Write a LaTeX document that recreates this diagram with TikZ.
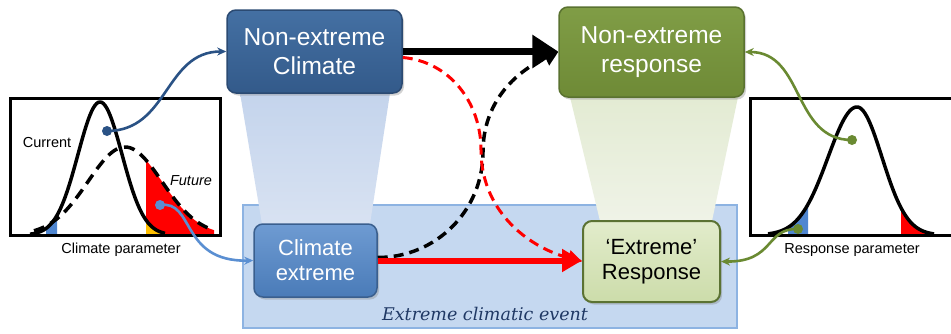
\documentclass[tikz,border=0pt]{standalone}
\usepackage{fontspec}
\setmainfont{Liberation Sans}
\newfontfamily\evfont{DejaVu Serif}
\usetikzlibrary{arrows.meta,shadows,calc}
\definecolor{necA}{HTML}{4470A3}
\definecolor{necB}{HTML}{335A8A}
\definecolor{necD}{HTML}{2B4A72}
\definecolor{ceA}{HTML}{6E9BD2}
\definecolor{ceB}{HTML}{4A7BB8}
\definecolor{ceD}{HTML}{3A5F8E}
\definecolor{nrA}{HTML}{809D46}
\definecolor{nrB}{HTML}{6E8A36}
\definecolor{nrD}{HTML}{5A7230}
\definecolor{erA}{HTML}{E2ECCB}
\definecolor{erB}{HTML}{CCDCAA}
\definecolor{erD}{HTML}{5B7233}
\definecolor{evFill}{HTML}{C5D8F0}
\definecolor{evDraw}{HTML}{8DB3E2}
\definecolor{evText}{HTML}{1F3864}
\definecolor{bmA}{HTML}{C4D4EC}
\definecolor{bmB}{HTML}{D8E2F2}
\definecolor{gbA}{HTML}{E3EBD3}
\definecolor{gbB}{HTML}{EFF3E7}
\definecolor{cDark}{HTML}{2A5285}
\definecolor{cLight}{HTML}{5A8FD2}
\definecolor{cGreen}{HTML}{6A8A32}
\definecolor{tailBlue}{HTML}{4F86D0}
\definecolor{tailYel}{HTML}{FFC000}
\newcommand\fbig{\fontsize{24.5}{29}\selectfont}
\newcommand\fmid{\fontsize{22}{25}\selectfont}
\newcommand\fsmall{\fontsize{14.5}{17}\selectfont}
\tikzset{
  boxnode/.style={rounded corners=9pt, align=center, inner sep=0pt,
    drop shadow={shadow xshift=2pt,shadow yshift=-2.5pt,opacity=0.35}},
  conn/.style={line width=2.6pt, -{Stealth[length=9pt,width=8pt]}},
  dotnode/.style={circle, inner sep=0pt, minimum size=10pt},
  chartframe/.style={line width=3pt, black},
  curve/.style={line width=3.5pt, black, line join=round},
  dcurve/.style={line width=3.5pt, black, dash pattern=on 11pt off 7pt},
  lbl/.style={font=\fsmall, inner sep=0pt}
}
\begin{document}
\begin{tikzpicture}[x=1pt,y=-1pt]
\useasboundingbox (0,0) rectangle (951,333);
\clip (0,0) rectangle (951,333);
\fill[white] (0,0) rectangle (951,333);

% extreme climatic event region
\draw[fill=evFill, draw=evDraw, line width=1.5pt] (243,205) rectangle (737,328);
\node[font=\evfont\itshape\fontsize{17.5}{21}\selectfont, text=evText, inner sep=0pt] (ev) at (485,314) {Extreme climatic event};

% beams
\shade[top color=bmA, bottom color=bmB] (240,93) -- (390,93) -- (370,224) -- (262,224) -- cycle;
\shade[top color=gbA, bottom color=gbB] (570,97) -- (738,97) -- (712,221) -- (600,221) -- cycle;

% boxes
\node[boxnode, top color=necA, bottom color=necB, draw=necD, line width=1.5pt,
  minimum width=175pt, minimum height=83pt, text=white, font=\fbig] (nec) at (314.5,51.5) {Non-extreme\\Climate};
\node[boxnode, top color=nrA, bottom color=nrB, draw=nrD, line width=1.5pt,
  minimum width=185pt, minimum height=90pt, text=white, font=\fbig] (nr) at (651.5,52) {Non-extreme\\response};
\node[boxnode, top color=ceA, bottom color=ceB, draw=ceD, line width=1.5pt,
  minimum width=123pt, minimum height=73pt, text=white, font=\fmid] (ce) at (315.5,260.5) {Climate\\extreme};
\node[boxnode, top color=erA, bottom color=erB, draw=erD, line width=2pt,
  minimum width=137pt, minimum height=81pt, text=black, font=\fmid] (er) at (651.5,261.5) {`Extreme'\\Response};

% dashed curved arrows
\coordinate (kb) at (483,152);
\coordinate (kr) at (481,150);
\draw[line width=3.5pt, dash pattern=on 10pt off 6pt, -{Triangle[length=14pt,width=16pt]}]
  ([yshift=3pt]ce.east) to[out=0,in=-90] (kb) to[out=90,in=205] (nr.west);
\draw[red, line width=3pt, dash pattern=on 10pt off 6pt, -{Triangle[length=14pt,width=15pt]}]
  ([yshift=-6pt]nec.east) to[out=-5,in=90] (kr) to[out=-90,in=165] (er.west);

% solid arrows
\draw[line width=7pt, -{Triangle[length=26pt,width=32pt]}] (nec.east) -- (nec.east -| nr.west);
\draw[red, line width=6pt, -{Triangle[length=20pt,width=22pt]}] (ce.east) -- (ce.east -| er.west);

% left chart
\fill[red] (146,235) -- plot[domain=146:214, samples=40] (\x, {235-88*exp(-((\x-125)^2)/2738)}) -- (214,235) -- cycle;
\fill[tailYel] (146,235) -- plot[domain=146:165, samples=20] (\x, {235-133*exp(-((\x-100)^2)/968)}) -- (165,235) -- cycle;
\fill[tailBlue] (46,235) -- plot[domain=46:57, samples=15] (\x, {235-133*exp(-((\x-100)^2)/968)}) -- (57,235) -- cycle;
\draw[dcurve] plot[domain=34:214, samples=80] (\x, {235-88*exp(-((\x-125)^2)/2738)});
\draw[curve] plot[domain=30:165, samples=80] (\x, {235-133*exp(-((\x-100)^2)/968)});
\draw[chartframe] (10,98) rectangle (220,235);
\node[lbl] (cur) at (47,143) {Current};
\node[lbl, font=\fsmall\itshape] (fut) at (191,181) {Future};
\node[lbl] (cp) at (121,250) {Climate parameter};

% right chart
\fill[tailBlue] (788,235) -- plot[domain=788:808, samples=20] (\x, {235-128*exp(-((\x-857)^2)/1682)}) -- (808,235) -- cycle;
\fill[red] (901,235) -- plot[domain=901:934, samples=20] (\x, {235-128*exp(-((\x-857)^2)/1250)}) -- (934,235) -- cycle;
\draw[curve] plot[domain=768:857, samples=60] (\x, {235-128*exp(-((\x-857)^2)/1682)})
  -- plot[domain=857:934, samples=60] (\x, {235-128*exp(-((\x-857)^2)/1250)});
\draw[chartframe] (750,98) rectangle (965,235);
\node[lbl] (rp) at (852,250) {Response parameter};

% connectors
\node[dotnode, fill=cDark] (d1) at (107,131) {};
\node[dotnode, fill=cLight] (d2) at (160,205) {};
\node[dotnode, fill=cGreen] (d3) at (852,140) {};
\node[dotnode, fill=cGreen] (d4) at (798,229) {};
\draw[conn, cDark] (d1.center) to[out=0,in=180,looseness=1.1] (nec.west);
\draw[conn, cLight] (d2.center) .. controls (195,200) and (180,262) .. (ce.west);
\draw[conn, cGreen] (d3.center) to[out=180,in=0,looseness=1.1] (nr.east);
\draw[conn, cGreen] (d4.center) .. controls (765,228) and (775,262) .. (er.east);
\end{tikzpicture}
\end{document}
